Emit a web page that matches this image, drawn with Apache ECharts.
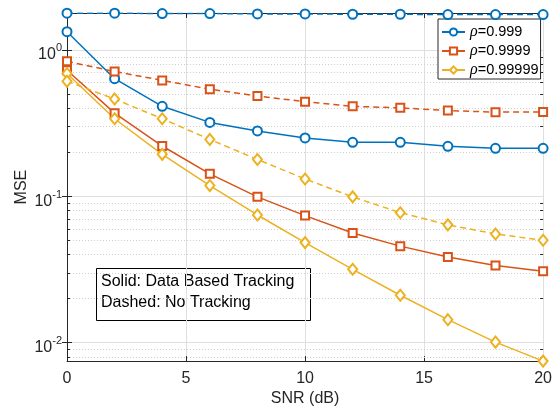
<!DOCTYPE html>
<html>
<head>
<meta charset="utf-8">
<script src="https://cdn.jsdelivr.net/npm/echarts@6/dist/echarts.min.js"></script>
<style>html,body{margin:0;padding:0;background:#fff;}#c{width:555px;height:412px;}</style>
</head>
<body>
<div id="c"></div>
<script>
const snr = [0, 2, 4, 6, 8, 10, 12, 14, 16, 18, 20];
const seriesNames = ['ρ=0.999', 'ρ=0.9999', 'ρ=0.99999'];
// Solid: Data Based Tracking
const trackRho999 = [1.33, 0.635, 0.411, 0.319, 0.279, 0.250, 0.233, 0.233, 0.219, 0.212, 0.212];
const trackRho9999 = [0.725, 0.369, 0.220, 0.142, 0.0988, 0.0736, 0.0559, 0.0455, 0.0384, 0.0335, 0.0307];
const trackRho99999 = [0.689, 0.338, 0.193, 0.118, 0.0743, 0.0481, 0.0316, 0.0210, 0.0143, 0.01005, 0.00745];
// Dashed: No Tracking
const noTrackRho999 = [1.78, 1.78, 1.77, 1.77, 1.76, 1.76, 1.75, 1.75, 1.74, 1.74, 1.74];
const noTrackRho9999 = [0.834, 0.711, 0.618, 0.538, 0.483, 0.442, 0.411, 0.401, 0.384, 0.375, 0.376];
const noTrackRho99999 = [0.609, 0.461, 0.338, 0.244, 0.178, 0.131, 0.0988, 0.077, 0.0636, 0.0551, 0.0499];
const xTicks = [0, 5, 10, 15, 20];
const yMajorTicks = [0.01, 0.1, 1];
const yMinorTicks = [0.008, 0.009, 0.02, 0.03, 0.04, 0.05, 0.06, 0.07, 0.08, 0.09,
                     0.2, 0.3, 0.4, 0.5, 0.6, 0.7, 0.8, 0.9];
const yMin = 0.00745, yMax = 1.785;

const colors = ['#0072BD', '#D95319', '#EDB120'];
const symbols = ['emptyCircle', 'emptyRect', 'emptyDiamond'];
const symSizes = [9, 8, [9, 11]];
const FONT = 'Liberation Sans, Arial, Helvetica, sans-serif';
const AX = '#262626';

function mk(name, data, i, dashed) {
  return {
    name: name, type: 'line', z: 5,
    data: snr.map((x, k) => [x, data[k]]),
    symbol: symbols[i], symbolSize: symSizes[i], showAllSymbol: true,
    lineStyle: { color: colors[i], width: 1.5, type: dashed ? [6, 4] : 'solid' },
    itemStyle: { color: colors[i], borderColor: colors[i], borderWidth: 1.4 },
    emphasis: { disabled: true }, animation: false
  };
}

const chart = echarts.init(document.getElementById('c'), null, { renderer: 'canvas' });
const ySup = v => { const e = Math.round(Math.log10(v)); return '{b|10}{s|' + e + '}'; };

chart.setOption({
  backgroundColor: '#fff',
  animation: false,
  grid: { left: 67, right: 11, top: 13, bottom: 46, containLabel: false },
  xAxis: [{
    type: 'value', min: 0, max: 20, interval: 5, position: 'bottom',
    name: 'SNR (dB)', nameLocation: 'middle', nameGap: 28,
    nameTextStyle: { fontSize: 16, color: AX, fontFamily: FONT },
    axisLine: { show: true, lineStyle: { color: AX, width: 1 } },
    axisTick: { show: true, inside: true, length: 5, lineStyle: { color: AX } },
    axisLabel: { fontSize: 16, color: AX, fontFamily: FONT, margin: 9 },
    splitLine: { show: true, lineStyle: { color: '#dfdfdf', width: 1 } }
  }, {
    type: 'value', min: 0, max: 20, interval: 5, position: 'top',
    axisLine: { show: true, lineStyle: { color: AX, width: 1 } },
    axisTick: { show: true, inside: true, length: 5, lineStyle: { color: AX } },
    axisLabel: { show: false }, splitLine: { show: false }
  }],
  yAxis: [{
    type: 'log', logBase: 10, min: yMin, max: yMax, position: 'left',
    name: 'MSE', nameLocation: 'middle', nameGap: 37, nameRotate: 90, nameMoveOverlap: false,
    nameTextStyle: { fontSize: 16, color: AX, fontFamily: FONT },
    axisLine: { show: true, lineStyle: { color: AX, width: 1 } },
    axisTick: { show: true, inside: true, length: 5, lineStyle: { color: AX }, customValues: yMajorTicks },
    axisLabel: {
      color: AX, fontFamily: FONT, margin: 5, customValues: yMajorTicks,
      formatter: ySup,
      rich: {
        b: { fontSize: 16, lineHeight: 18, padding: [10, 0, 0, 0], color: AX, fontFamily: FONT },
        s: { fontSize: 11, lineHeight: 13, padding: [6, 0, 9, 0], color: AX, fontFamily: FONT }
      }
    },
    splitLine: { show: true, lineStyle: { color: '#dfdfdf', width: 1 } },
    minorTick: { show: false }, minorSplitLine: { show: false }
  }, {
    type: 'log', logBase: 10, min: yMin, max: yMax, position: 'right',
    axisLine: { show: true, lineStyle: { color: AX, width: 1 } },
    axisTick: { show: true, inside: true, length: 5, lineStyle: { color: AX }, customValues: yMajorTicks },
    axisLabel: { show: false }, splitLine: { show: false }
  }],
  legend: {
    data: seriesNames, orient: 'vertical', left: 438, top: 19,
    padding: [5, 2, 1, 3], itemGap: 3, itemWidth: 23, itemHeight: 9,
    backgroundColor: '#fff', borderColor: AX, borderWidth: 1, borderRadius: 0,
    selectedMode: false,
    formatter: n => '{i|ρ}' + n.slice(1),
    textStyle: {
      fontSize: 14.5, color: '#000', fontFamily: FONT, lineHeight: 16,
      rich: { i: { fontStyle: 'italic', fontFamily: 'Liberation Serif, DejaVu Serif, serif', fontSize: 16, lineHeight: 16, color: '#000' } }
    }
  },
  graphic: [{
    type: 'group', left: 96, top: 268, z: 100,
    children: [
      { type: 'rect', shape: { x: 0.5, y: 0.5, width: 214, height: 52 },
        style: { fill: '#fff', stroke: '#000', lineWidth: 1 } },
      { type: 'text', x: 5, y: 3.5,
        style: { text: 'Solid: Data Based Tracking\nDashed: No Tracking', font: '16px ' + FONT, fill: '#000', lineHeight: 21 } }
    ]
  }],
  series: [
    {
      type: 'custom', name: 'minorgrid', z: 1, silent: true, animation: false,
      xAxisIndex: 0, yAxisIndex: 0,
      data: yMinorTicks.map(v => [0, v]),
      encode: { x: 0, y: 1 },
      renderItem: function (params, api) {
        const cs = params.coordSys;
        const y = Math.round(api.coord([0, api.value(1)])[1]) + 0.5;
        return {
          type: 'group', children: [
            { type: 'line', shape: { x1: cs.x, y1: y, x2: cs.x + cs.width, y2: y },
              style: { stroke: '#cfcfcf', lineWidth: 1, lineDash: [1, 2] } },
            { type: 'line', shape: { x1: cs.x, y1: y, x2: cs.x + 3, y2: y },
              style: { stroke: AX, lineWidth: 1 } },
            { type: 'line', shape: { x1: cs.x + cs.width - 3, y1: y, x2: cs.x + cs.width, y2: y },
              style: { stroke: AX, lineWidth: 1 } }
          ]
        };
      }
    },
    mk(seriesNames[0], trackRho999, 0, false),
    mk(seriesNames[1], trackRho9999, 1, false),
    mk(seriesNames[2], trackRho99999, 2, false),
    mk('nt0', noTrackRho999, 0, true),
    mk('nt1', noTrackRho9999, 1, true),
    mk('nt2', noTrackRho99999, 2, true)
  ]
});
</script>
</body>
</html>
